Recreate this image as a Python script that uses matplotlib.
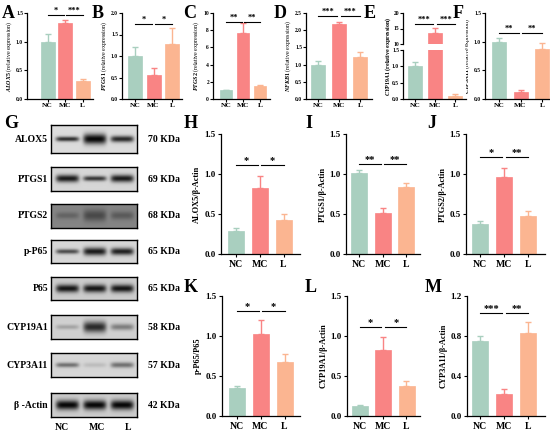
import numpy as np
import matplotlib
matplotlib.use('Agg')
import matplotlib.pyplot as plt

plt.rcParams['font.family'] = ['Liberation Serif', 'DejaVu Serif']
plt.rcParams['font.weight'] = 'bold'
plt.rcParams['mathtext.fontset'] = 'custom'
plt.rcParams['mathtext.rm'] = 'Liberation Serif:bold'
plt.rcParams['mathtext.it'] = 'Liberation Serif:italic:bold'
plt.rcParams['axes.linewidth'] = 0.9

# ---------------- data ----------------
groups = ['NC', 'MC', 'L']
colors = ['#A9CFBF', '#F98484', '#FBB591']

# qPCR panels A-F
qpcr_genes = ['ALOX5', 'PTGS1', 'PTGS2', 'NFKB1', 'CYP19A1', 'CYP3A11']
alox5_mrna = [1.00, 1.32, 0.31]
alox5_mrna_err = [0.14, 0.06, 0.04]
ptgs1_mrna = [1.00, 0.56, 1.27]
ptgs1_mrna_err = [0.20, 0.16, 0.38]
ptgs2_mrna = [1.00, 7.70, 1.50]
ptgs2_mrna_err = [0.10, 1.10, 0.12]
nfkb1_mrna = [1.00, 2.18, 1.22]
nfkb1_mrna_err = [0.10, 0.07, 0.14]
cyp19a1_mrna = [1.00, 13.4, 0.10]
cyp19a1_mrna_err = [0.12, 1.9, 0.06]
cyp3a11_mrna = [1.00, 0.13, 0.87]
cyp3a11_mrna_err = [0.06, 0.02, 0.11]

# western blot quantification H-M
wb_labels = ['ALOX5/β-Actin', 'PTGS1/β-Actin', 'PTGS2/β-Actin',
             'p-P65/P65', 'CYP19A1/β-Actin', 'CYP3A11/β-Actin']
alox5_wb = [0.29, 0.82, 0.43]
alox5_wb_err = [0.04, 0.16, 0.07]
ptgs1_wb = [1.01, 0.51, 0.84]
ptgs1_wb_err = [0.04, 0.07, 0.05]
ptgs2_wb = [0.38, 0.96, 0.47]
ptgs2_wb_err = [0.03, 0.12, 0.07]
pp65_wb = [0.35, 1.03, 0.68]
pp65_wb_err = [0.03, 0.17, 0.10]
cyp19a1_wb = [0.13, 0.83, 0.38]
cyp19a1_wb_err = [0.01, 0.16, 0.06]
cyp3a11_wb = [0.75, 0.22, 0.83]
cyp3a11_wb_err = [0.05, 0.05, 0.11]

# significance: (label NC-MC, label MC-L, bracket height)
sig_A = ('*', '***', 1.46)
sig_B = ('*', '*', 1.74)
sig_C = ('**', '**', 9.0)
sig_D = ('***', '***', 2.41)
sig_E = ('***', '***', 16.5)
sig_F = ('**', '**', 1.15)
sig_H = ('*', '*', 1.11)
sig_I = ('**', '**', 1.125)
sig_J = ('*', '**', 1.21)
sig_K = ('*', '*', 1.31)
sig_L = ('*', '*', 1.11)
sig_M = ('***', '**', 1.03)

# blot rows
blot_proteins = ['ALOX5', 'PTGS1', 'PTGS2', 'p-P65', 'P65', 'CYP19A1', 'CYP3A11', 'β -Actin']
blot_kda = ['70 KDa', '69 KDa', '68 KDa', '65 KDa', '65 KDa', '58 KDa', '57 KDa', '42 KDa']
blot_background = [0.86, 0.84, 0.52, 0.84, 0.80, 0.82, 0.84, 0.80]
blot_intensity = [[0.80, 0.97, 0.82], [0.88, 0.75, 0.88], [0.25, 0.45, 0.32],
                  [0.65, 0.88, 0.85], [0.90, 0.90, 0.90], [0.22, 0.80, 0.40],
                  [0.48, 0.12, 0.48], [0.97, 0.97, 0.97]]
blot_thickness = [[3.0, 6.5, 4.0], [4.5, 3.0, 4.5], [4.0, 7.0, 5.0],
                  [3.0, 5.0, 4.5], [5.0, 5.0, 5.0], [3.0, 7.0, 4.0],
                  [3.0, 3.0, 3.5], [6.0, 6.0, 6.0]]

# ---------------- layout helpers ----------------
W, H = 550, 437
fig = plt.figure(figsize=(W / 100, H / 100), dpi=100)


def px_axes(left, top, right, bottom):
    return fig.add_axes([left / W, 1 - bottom / H, (right - left) / W, (bottom - top) / H])


def style(ax, fs=6.3, xfs=None, tl=2.5, pad=1.5):
    for s in ['top', 'right']:
        ax.spines[s].set_visible(False)
    ax.tick_params(axis='both', direction='out', length=tl, width=0.8, labelsize=fs, pad=pad)
    if xfs is not None:
        ax.tick_params(axis='x', labelsize=xfs)
    for lab in ax.get_yticklabels() + ax.get_xticklabels():
        lab.set_fontweight('bold')


def bar_panel(ax, vals, errs, c0, sp, w, left, right):
    x = np.arange(3)
    ax.bar(x, vals, width=w / sp, color=colors, edgecolor=colors, linewidth=0.5, zorder=2)
    for i in range(3):
        ax.errorbar(x[i], vals[i], yerr=[[0], [errs[i]]], fmt='none', ecolor=colors[i],
                    elinewidth=1.0, capsize=2.2, capthick=1.0, zorder=1)
    ax.set_xlim((left - c0) / sp, (right - c0) / sp)
    ax.set_xticks(x)
    ax.set_xticklabels(groups)


def sig(ax, s, fs=7.5):
    l1, l2, y = s
    for (a, b, t) in [(0.0, 0.92, l1), (1.08, 2.0, l2)]:
        ax.plot([a, b], [y, y], color='black', lw=0.8, clip_on=False, zorder=5)
        ax.text((a + b) / 2, y, t, ha='center', va='bottom', fontsize=fs, fontweight='bold')


def letter(x, y, t, fs=13):
    fig.text(x / W, 1 - y / H, t, fontsize=fs, fontweight='bold', ha='left', va='center')


# ---------------- top row A-F ----------------
top_t, top_b = 13, 99
top_specs = [
    # vals, errs, c0, sp, w, left, right, ylim, yticks, fmt, sig
    (alox5_mrna, alox5_mrna_err, 47.5, 17.5, 14, 27, 93, 1.5, [0, 0.5, 1.0, 1.5], '%.1f', sig_A),
    (ptgs1_mrna, ptgs1_mrna_err, 135, 18.5, 14, 122, 182, 2.0, [0, 0.5, 1.0, 1.5, 2.0], '%.1f', sig_B),
    (ptgs2_mrna, ptgs2_mrna_err, 226, 17, 12, 213, 270, 10, [0, 2, 4, 6, 8, 10], '%d', sig_C),
    (nfkb1_mrna, nfkb1_mrna_err, 318, 21, 14, 306, 372, 2.5, [0, 0.5, 1.0, 1.5, 2.0, 2.5], '%.1f', sig_D),
    None,
    (cyp3a11_mrna, cyp3a11_mrna_err, 499, 21.5, 14, 485, 550, 1.5, [0, 0.5, 1.0, 1.5], '%.1f', sig_F),
]
letters_top = [('A', 2, 13), ('B', 92, 13), ('C', 183, 13), ('D', 274, 13), ('E', 364, 13), ('F', 453, 13)]
TOP_FS, TOP_XFS, TOP_YL = 4.0, 5.3, 4.3
for i, spec in enumerate(top_specs):
    if spec is None:
        continue
    vals, errs, c0, sp, w, left, right, ymax, yt, fmt, s = spec
    ax = px_axes(left, top_t, right, top_b)
    bar_panel(ax, vals, errs, c0, sp, w, left, right)
    ax.set_ylim(0, ymax)
    ax.set_yticks(yt)
    ax.set_yticklabels([fmt % v for v in yt])
    style(ax, TOP_FS, TOP_XFS, tl=2, pad=0.8)
    sig(ax, s, 6)
    ax.set_ylabel(r'$\mathit{%s}$ (relative expression)' % qpcr_genes[i], fontsize=TOP_YL, labelpad=1.5)

# E broken axis
c0, sp, w, left, right = 415, 20, 14, 403, 466
axE_top = px_axes(left, 13, right, 44)
axE_bot = px_axes(left, 50, right, 99)
for axe in (axE_top, axE_bot):
    bar_panel(axe, cyp19a1_mrna, cyp19a1_mrna_err, c0, sp, w, left, right)
axE_top.set_ylim(10, 20)
axE_top.set_yticks([10, 15, 20])
axE_top.set_yticklabels(['10', '15', '20'])
axE_bot.set_ylim(0, 1.5)
axE_bot.set_yticks([0, 0.5, 1.0, 1.5])
axE_bot.set_yticklabels(['0.0', '0.5', '1.0', '1.5'])
style(axE_top, TOP_FS, TOP_XFS, tl=2, pad=0.8)
style(axE_bot, TOP_FS, TOP_XFS, tl=2, pad=0.8)
axE_top.spines['bottom'].set_visible(False)
axE_top.tick_params(axis='x', bottom=False, labelbottom=False)
sig(axE_top, sig_E, 6)
fig.text(388 / W, 1 - 56 / H, r'$\mathit{CYP19A1}$ (relative expression)', rotation=90,
         fontsize=TOP_YL, ha='center', va='center')

for t, x, y in letters_top:
    letter(x, y, t)

# ---------------- blots G ----------------
letter(4, 124, 'G')
blot_tops = [125, 167, 204, 240, 277, 315, 353, 393]
blot_h = [28, 24, 24, 23, 23, 24, 24, 24]
bl, br = 51, 137
lane_frac = [0.19, 0.51, 0.83]
for r, prot in enumerate(blot_proteins):
    t = blot_tops[r]
    hgt = blot_h[r]
    ax = px_axes(bl, t, br, t + hgt)
    nx, ny = 172, hgt * 2
    xx = np.linspace(0, 1, nx)[None, :]
    yy = np.linspace(0, hgt, ny)[:, None]
    img = np.full((ny, nx), blot_background[r])
    for k in range(3):
        hw = 0.135
        prof_x = np.exp(-((xx - lane_frac[k]) / hw) ** 6)
        prof_y = np.exp(-((yy - hgt / 2) / (blot_thickness[r][k] * 0.8)) ** 2)
        img = img - blot_intensity[r][k] * prof_x * prof_y * blot_background[r]
    img = np.clip(img, 0, 1)
    ax.imshow(img, cmap='gray', vmin=0, vmax=1, aspect='auto', extent=[0, 1, 0, 1],
              interpolation='bilinear')
    ax.set_xticks([])
    ax.set_yticks([])
    for s in ax.spines.values():
        s.set_linewidth(1.0)
    fig.text(48 / W, 1 - (t + hgt / 2) / H, prot, fontsize=7, fontweight='bold', ha='right', va='center')
    fig.text(148 / W, 1 - (t + hgt / 2) / H, blot_kda[r], fontsize=7, fontweight='bold', ha='left', va='center')
for g, x in zip(groups, [62, 97, 128]):
    fig.text(x / W, 1 - 428 / H, g, fontsize=7, fontweight='bold', ha='center', va='center')

# ---------------- H-M ----------------
wb_specs = [
    (alox5_wb, alox5_wb_err, 235.5, 24, 16, 221, 300, 134, 254, 1.5, [0, 0.5, 1.0, 1.5], sig_H),
    (ptgs1_wb, ptgs1_wb_err, 359, 23.5, 16, 346, 420, 134, 254, 1.5, [0, 0.5, 1.0, 1.5], sig_I),
    (ptgs2_wb, ptgs2_wb_err, 480, 24, 16, 466, 545, 134, 254, 1.5, [0, 0.5, 1.0, 1.5], sig_J),
    (pp65_wb, pp65_wb_err, 236.5, 24, 16, 222, 300, 296, 416, 1.5, [0, 0.5, 1.0, 1.5], sig_K),
    (cyp19a1_wb, cyp19a1_wb_err, 359.5, 23.5, 16, 347, 420, 296, 416, 1.5, [0, 0.5, 1.0, 1.5], sig_L),
    (cyp3a11_wb, cyp3a11_wb_err, 480, 24, 16, 467, 545, 296, 416, 1.2, [0, 0.4, 0.8, 1.2], sig_M),
]
letters_wb = [('H', 184, 124), ('I', 305, 124), ('J', 427, 124),
              ('K', 184, 288), ('L', 305, 288), ('M', 425, 288)]
for i, spec in enumerate(wb_specs):
    vals, errs, c0, sp, w, left, right, top, bot, ymax, yt, s = spec
    ax = px_axes(left, top, right, bot)
    bar_panel(ax, vals, errs, c0, sp, w, left, right)
    ax.set_ylim(0, ymax)
    ax.set_yticks(yt)
    ax.set_yticklabels(['%.1f' % v for v in yt])
    style(ax, 6.5, 7)
    sig(ax, s, 7.5)
    ax.set_ylabel(wb_labels[i], fontsize=6, labelpad=2, fontweight='bold')
for t, x, y in letters_wb:
    letter(x, y, t)

fig.savefig('out.png', dpi=100)
